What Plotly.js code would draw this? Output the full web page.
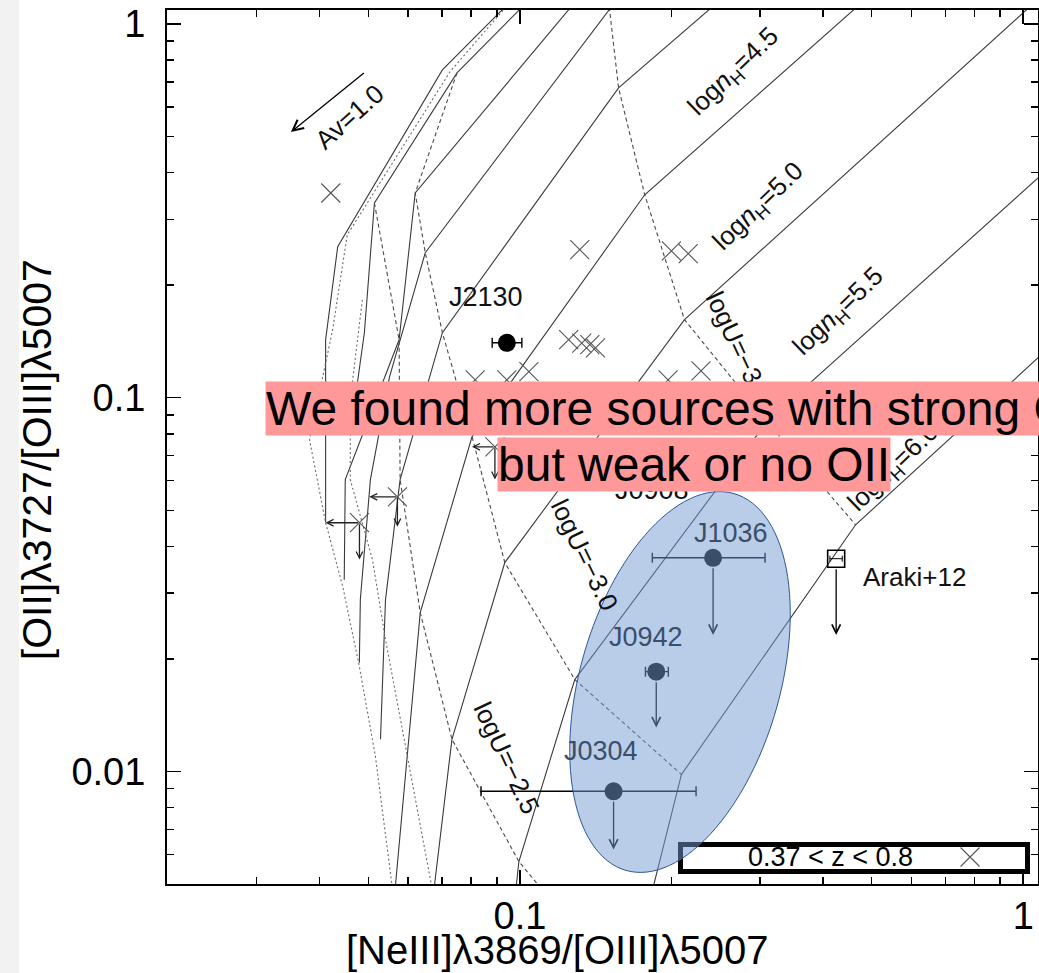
<!DOCTYPE html>
<html>
<head>
<meta charset="utf-8">
<script src="https://cdn.plot.ly/plotly-3.0.1.min.js"></script>
<style>
  html, body { margin: 0; padding: 0; background: #ffffff; }
  #chart { width: 1039px; height: 973px; }
</style>
</head>
<body>
<div id="chart"></div>
<script>
// ---- Photoionization model grid, log10 line ratios --------------------------
// x: log10([NeIII]3869/[OIII]5007), y: log10([OII]3727/[OIII]5007)

// constant-density tracks (solid)
const n60x = [0.032, -0.333, -0.679, -0.739];
const n60y = [-0.890, -1.340, -2.008, -2.330];
const n55x = [0.032, -0.509, -0.891, -1.002, -1.008];
const n55y = [-0.409, -1.064, -1.754, -2.241, -2.316];
const n50x = [0.028, -0.673, -1.030, -1.135, -1.172];
const n50y = [0.064, -0.791, -1.441, -1.914, -2.330];
const n45x = [-0.315, -0.752, -1.095, -1.198, -1.248];
const n45y = [0.064, -0.457, -1.104, -1.575, -2.316];
const n40x = [-0.602, -0.804, -1.154, -1.238, -1.267, -1.277];
const n40y = [0.064, -0.171, -0.826, -1.219, -1.540, -1.914];
const n35x = [-0.808, -1.188, -1.259, -1.297, -1.317, -1.319];
const n35y = [0.064, -0.612, -0.944, -1.219, -1.540, -1.709];
const n30x = [-0.887, -1.208, -1.240, -1.347, -1.349];
const n30y = [0.064, -0.452, -0.845, -1.219, -1.487];
const n25x = [-0.982, -1.125, -1.289, -1.309, -1.333];
const n25y = [0.064, -0.131, -0.479, -0.826, -1.059];
const n20x = [-1.016, -1.154, -1.362, -1.386, -1.386];
const n20y = [0.064, -0.123, -0.596, -0.845, -1.334];

// constant-ionization-parameter tracks (dashed)
const u35x = [-0.824, -0.804, -0.752, -0.673, -0.509, -0.333];
const u35y = [0.064, -0.171, -0.457, -0.791, -1.064, -1.340];
const u30x = [-1.125, -1.208, -1.188, -1.154, -1.095, -1.030, -0.891, -0.679];
const u30y = [-0.131, -0.452, -0.612, -0.826, -1.104, -1.441, -1.754, -2.008];
const u25x = [-1.289, -1.240, -1.238, -1.198, -1.135, -1.002, -0.956];
const u25y = [-0.479, -0.845, -1.219, -1.575, -1.914, -2.241, -2.316];

// low-density / high-U branch (dotted)
const d1x = [-1.016, -1.139, -1.343, -1.372, -1.418, -1.386, -1.352, -1.319, -1.287, -1.253];
const d1y = [0.064, -0.128, -0.564, -0.818, -1.112, -1.334, -1.505, -1.719, -1.960, -2.316];
const d2x = [-1.313, -1.337, -1.337, -1.293, -1.267, -1.230, -1.174];
const d2y = [-0.738, -1.005, -1.219, -1.433, -1.647, -1.914, -2.316];

// ---- Observed ratios ----------------------------------------------------------
// 0.37 < z < 0.8 comparison sample
const sampNe = [0.0421, 0.1315, 0.200, 0.216, 0.125, 0.1327, 0.1377, 0.1413, 0.0815, 0.0942, 0.1042, 0.197, 0.229];
const sampO2 = [0.353, 0.249, 0.247, 0.243, 0.143, 0.140, 0.1387, 0.136, 0.1117, 0.1117, 0.1174, 0.1117, 0.118];
// sample members with upper limits on both ratios
const limNe    = [0.0480, 0.0571, 0.0892];
const limO2    = [0.0463, 0.0543, 0.0739];
const limNeTip = [0.0411, 0.0502, 0.0803];
const limO2Tip = [0.0369, 0.0452, 0.0604];

// targets
const srcName = ['J2130', 'J1036', 'J0942', 'J0304'];
const srcNe   = [0.0942, 0.242, 0.1866, 0.1535];
const srcNeLo = [0.0881, 0.1833, 0.1776, 0.0837];
const srcNeHi = [0.1009, 0.307, 0.1972, 0.2239];
const srcO2   = [0.1403, 0.0373, 0.0185, 0.00885];
const srcO2Tip = [null, 0.0232, 0.01312, 0.00618];

// Araki+12
const arakiNe = [0.425], arakiNeLo = [0.413], arakiNeHi = [0.437];
const arakiO2 = [0.0371], arakiO2Tip = [0.0232];

// reddening vector (Av = 1.0)
const avFrom = [Math.pow(10, -1.307), Math.pow(10, -0.128)];
const avTo   = [Math.pow(10, -1.455), Math.pow(10, -0.289)];

// axis ticks
const xMajor = [0.1, 1], xMajorText = ['0.1', '1'];
const yMajor = [0.01, 0.1, 1], yMajorText = ['0.01', '0.1', '1'];
const xMinor = [0.03, 0.04, 0.05, 0.06, 0.07, 0.08, 0.09, 0.2, 0.3, 0.4, 0.5, 0.6, 0.7, 0.8, 0.9];
const yMinor = [0.006, 0.007, 0.008, 0.009, 0.02, 0.03, 0.04, 0.05, 0.06, 0.07, 0.08, 0.09,
                0.2, 0.3, 0.4, 0.5, 0.6, 0.7, 0.8, 0.9];

// ---- Figure -----------------------------------------------------------------
const FONT = 'Liberation Sans, Arial, Helvetica, sans-serif';
const pow10 = a => a.map(v => Math.pow(10, v));
const log10 = v => Math.log10(v);

const traces = [];
function track(xs, ys, dash, color, width) {
  traces.push({
    type: 'scatter', mode: 'lines', x: pow10(xs), y: pow10(ys),
    line: { color: color, width: width, dash: dash },
    hoverinfo: 'skip', showlegend: false
  });
}
[[n60x, n60y], [n55x, n55y], [n50x, n50y], [n45x, n45y], [n40x, n40y],
 [n35x, n35y], [n30x, n30y], [n25x, n25y], [n20x, n20y]]
  .forEach(t => track(t[0], t[1], 'solid', '#3a3a3a', 1.1));
[[u35x, u35y], [u30x, u30y], [u25x, u25y]]
  .forEach(t => track(t[0], t[1], '4px,3px', '#4a4a4a', 1.1));
[[d1x, d1y], [d2x, d2y]]
  .forEach(t => track(t[0], t[1], '2px,2.5px', '#6a6a6a', 1.1));

// comparison sample
traces.push({
  type: 'scatter', mode: 'markers', x: sampNe.concat(limNe), y: sampO2.concat(limO2),
  marker: { symbol: 'x-thin', size: 19, line: { width: 1.1, color: '#555555' } },
  hoverinfo: 'skip', showlegend: false
});

// targets with errors on the [NeIII]/[OIII] ratio
traces.push({
  type: 'scatter', mode: 'markers', x: srcNe, y: srcO2,
  error_x: {
    type: 'data', symmetric: false,
    array: srcNe.map((v, i) => srcNeHi[i] - v),
    arrayminus: srcNe.map((v, i) => v - srcNeLo[i]),
    color: '#000000', thickness: 1.4, width: 5
  },
  marker: { symbol: 'circle', size: 18, color: '#000000' },
  hoverinfo: 'skip', showlegend: false
});

// Araki+12
traces.push({
  type: 'scatter', mode: 'markers', x: arakiNe, y: arakiO2,
  error_x: {
    type: 'data', symmetric: false,
    array: [arakiNeHi[0] - arakiNe[0]], arrayminus: [arakiNe[0] - arakiNeLo[0]],
    color: '#000000', thickness: 1, width: 3
  },
  marker: { symbol: 'square-open', size: 17, color: '#000000', line: { width: 1.6, color: '#000000' } },
  hoverinfo: 'skip', showlegend: false
});

// legend glyph on an overlay in plot-fraction units
traces.push({
  type: 'scatter', mode: 'markers', x: [0.922], y: [0.0309], xaxis: 'x2', yaxis: 'y2',
  marker: { symbol: 'x-thin', size: 19, line: { width: 1.1, color: '#555555' } },
  hoverinfo: 'skip', showlegend: false
});

// ---- Annotations --------------------------------------------------------------
const TINT = '#3a4f6a';
const annotations = [];
function arrow(x0, y0, x1, y1, color, standoff, size) {
  annotations.push({
    xref: 'x', yref: 'y', axref: 'x', ayref: 'y',
    x: log10(x1), y: log10(y1), ax: log10(x0), ay: log10(y0),
    text: '', showarrow: true, arrowhead: 5, arrowsize: size || 1.25,
    arrowwidth: 1.3, arrowcolor: color, startstandoff: standoff
  });
}
function label(text, lx, ly, size, color, angle) {
  annotations.push({
    xref: 'x', yref: 'y', x: lx, y: ly, text: text, showarrow: false,
    xanchor: 'center', yanchor: 'middle', textangle: angle || 0,
    font: { family: FONT, size: size, color: color }
  });
}

// upper limits of the comparison sample
limNe.forEach((v, i) => {
  arrow(v, limO2[i], limNeTip[i], limO2[i], '#222222', 0, 1.0);
  arrow(v, limO2[i], v, limO2Tip[i], '#222222', 0, 1.0);
});
// upper limits on [OII] for the targets
srcNe.forEach((v, i) => {
  if (srcO2Tip[i] !== null) arrow(v, srcO2[i], v, srcO2Tip[i], TINT, 9, 1.3);
});
arrow(arakiNe[0], arakiO2[0], arakiNe[0], arakiO2Tip[0], '#000000', 9, 1.3);
// reddening vector
arrow(avFrom[0], avFrom[1], avTo[0], avTo[1], '#000000', 0, 1.6);

// grid labels
label('Av=1.0', -1.339, -0.249, 26, '#111111', -42);
label('log<i>n</i><sub>H</sub>=4.5', -0.574, -0.128, 26, '#111111', -44);
label('log<i>n</i><sub>H</sub>=5.0', -0.525, -0.489, 26, '#111111', -44);
label('log<i>n</i><sub>H</sub>=5.5', -0.366, -0.770, 26, '#111111', -44);
label('log<i>n</i><sub>H</sub>=6.0', -0.257, -1.187, 26, '#111111', -44);
label('logU=−3.5', -0.564, -0.866, 26, '#111111', 65);
label('logU=−3.0', -0.871, -1.420, 26, '#111111', 64);
label('logU=−2.5', -1.026, -1.963, 26, '#111111', 65);

// object labels
label('J2130', -1.067, -0.730, 27, '#111111');
label('J0908', -0.737, -1.246, 27, '#111111');
label('J1036', -0.580, -1.361, 27, TINT);
label('J0942', -0.750, -1.639, 27, TINT);
label('J0304', -0.838, -1.944, 27, TINT);
label('Araki+12', -0.216, -1.479, 26, '#111111');

// axis titles
annotations.push({
  xref: 'paper', yref: 'paper', x: 0.4478, y: -0.0755, showarrow: false,
  xanchor: 'center', yanchor: 'middle',
  text: '[NeIII]λ3869/[OIII]λ5007', font: { family: FONT, size: 40, color: '#000000' }
});
annotations.push({
  xref: 'paper', yref: 'paper', x: -0.1490, y: 0.4851, showarrow: false,
  xanchor: 'center', yanchor: 'middle', textangle: -90,
  text: '[OII]λ3727/[OIII]λ5007', font: { family: FONT, size: 41, color: '#000000' }
});

// legend text
annotations.push({
  xref: 'paper', yref: 'paper', x: 0.7612, y: 0.0309, showarrow: false,
  xanchor: 'center', yanchor: 'middle',
  text: '0.37 &lt; z &lt; 0.8', font: { family: FONT, size: 27, color: '#000000' }
});

// highlighted note, one band per line
annotations.push({
  xref: 'paper', yref: 'paper', x: 0.1125, y: 0.5440, showarrow: false,
  xanchor: 'left', yanchor: 'middle', bgcolor: '#ff9999', borderpad: 0,
  text: 'We found more sources with strong OIII', font: { family: FONT, size: 48, color: '#000000' }
});
annotations.push({
  xref: 'paper', yref: 'paper', x: 0.6045, y: 0.4800, showarrow: false,
  xanchor: 'center', yanchor: 'middle', bgcolor: '#ff9999', borderpad: 0,
  text: 'but weak or no OII', font: { family: FONT, size: 48, color: '#000000' }
});

// ---- Shapes -----------------------------------------------------------------
const plotL = 167, plotT = 10, plotW = 871, plotH = 874;
function toPaper(px, py) { return [(px - plotL) / plotW, 1 - (py - plotT) / plotH]; }
function ellipsePath(cx, cy, a, b, tiltDeg) {
  const t = tiltDeg * Math.PI / 180;
  const ux = Math.sin(t), uy = -Math.cos(t), vx = Math.cos(t), vy = Math.sin(t);
  let d = '';
  for (let i = 0; i <= 120; i++) {
    const s = 2 * Math.PI * i / 120;
    const p = toPaper(cx + a * Math.cos(s) * ux + b * Math.sin(s) * vx,
                      cy + a * Math.cos(s) * uy + b * Math.sin(s) * vy);
    d += (i ? 'L' : 'M') + p[0].toFixed(5) + ',' + p[1].toFixed(5);
  }
  return d + 'Z';
}
const boxA = toPaper(680.5, 871.5), boxB = toPaper(1027.5, 844.5);
const shapes = [
  { type: 'rect', xref: 'paper', yref: 'paper', x0: -0.1917, x1: -0.1700, y0: -0.2, y1: 1.1,
    fillcolor: '#f2f2f2', line: { width: 0 }, layer: 'below' },
  { type: 'rect', xref: 'paper', yref: 'paper', x0: boxA[0], y0: boxA[1], x1: boxB[0], y1: boxB[1],
    fillcolor: '#ffffff', line: { color: '#000000', width: 5 }, layer: 'below' },
  { type: 'path', xref: 'paper', yref: 'paper', path: ellipsePath(680, 682, 196, 100, 16),
    fillcolor: 'rgba(115,156,209,0.5)', line: { color: '#2f5597', width: 1 }, layer: 'above' }
];

// ---- Layout -----------------------------------------------------------------
const axisCommon = {
  type: 'log', showgrid: false, zeroline: false,
  showline: true, linecolor: '#000000', linewidth: 2, mirror: 'ticks',
  ticks: 'inside', ticklen: 14, tickwidth: 1.5, tickcolor: '#000000',
  tickfont: { family: FONT, size: 38, color: '#000000' },
  tickmode: 'array'
};
const layout = {
  width: 1039, height: 973,
  margin: { l: plotL, r: 1, t: plotT, b: 89, pad: 0 },
  paper_bgcolor: '#ffffff', plot_bgcolor: '#ffffff',
  showlegend: false,
  xaxis: Object.assign({}, axisCommon, {
    range: [log10(0.0199), log10(1.07)],
    tickvals: xMajor, ticktext: xMajorText, ticklabelstandoff: -3,
    minor: { tickvals: xMinor, ticks: 'inside', ticklen: 7, tickwidth: 1.5, tickcolor: '#000000' }
  }),
  yaxis: Object.assign({}, axisCommon, {
    range: [log10(0.005), log10(1.09)],
    tickvals: yMajor, ticktext: yMajorText, ticklabelstandoff: 12,
    minor: { tickvals: yMinor, ticks: 'inside', ticklen: 7, tickwidth: 1.5, tickcolor: '#000000' }
  }),
  xaxis2: { overlaying: 'x', range: [0, 1], visible: false, fixedrange: true },
  yaxis2: { overlaying: 'y', range: [0, 1], visible: false, fixedrange: true },
  annotations: annotations,
  shapes: shapes
};

Plotly.newPlot('chart', traces, layout, { staticPlot: true, displayModeBar: false });
</script>
</body>
</html>
